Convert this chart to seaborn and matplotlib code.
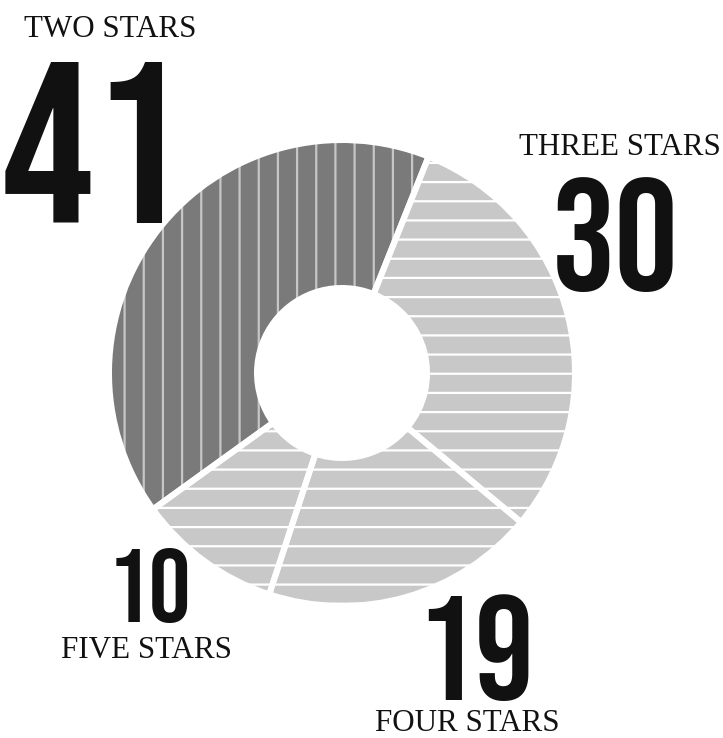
import matplotlib
matplotlib.use("Agg")
import matplotlib.pyplot as plt
import seaborn as sns

# Star-rating shares (percent of reviews)
categories = ["TWO STARS", "THREE STARS", "FOUR STARS", "FIVE STARS"]
values = [41, 30, 19, 10]

sns.set_theme(style="white")
plt.rcParams["hatch.linewidth"] = 1.4

W, H, DPI = 723, 738, 115
fig = plt.figure(figsize=(W / DPI, H / DPI), dpi=DPI)
ax = fig.add_axes([0, 0, 1, 1])

face_colors = ["#7a7a7a", "#c8c8c8", "#c8c8c8", "#c8c8c8"]
hatch_colors = ["#c6c6c6", "#ffffff", "#ffffff", "#ffffff"]
hatches = ["|", "-", "-", "-"]

# ring geometry (in units of the visible outer radius)
gap_px = 6
outer = 1 + (gap_px / 2) / 230
inner = (88 - gap_px / 2) / 230
ring_w = outer - inner

# filled, hatched wedges
wedges, _ = ax.pie(values, startangle=215.8, counterclock=False, radius=outer,
                   colors=face_colors, wedgeprops=dict(width=ring_w, linewidth=0))
for w, hc, ht in zip(wedges, hatch_colors, hatches):
    w.set_edgecolor(hc)
    if hasattr(w, "set_hatchcolor"):
        w.set_hatchcolor(hc)
    w.set_hatch(ht)
    w.set_linewidth(0)

# white separators between the wedges
ax.pie(values, startangle=215.8, counterclock=False, radius=outer,
       colors=["none"] * len(values),
       wedgeprops=dict(width=ring_w, linewidth=gap_px * 72 / DPI,
                       edgecolor="white", facecolor="none"))

# place the ring: centre at (342, 373) px, radius 230 px
cx, cy, R = 342, 373, 230
ax.set_xlim(-cx / R, (W - cx) / R)
ax.set_ylim(-(H - cy) / R, cy / R)
ax.set_aspect("auto")
ax.axis("off")

num_family = ["Bebas Neue", "Liberation Sans Narrow", "DejaVu Sans"]
lab_family = ["Liberation Serif", "DejaVu Serif"]


def px2pt(px):
    return px * 72 / DPI


# (number centre x, number baseline y, digit height) and (label centre x, label baseline y)
num_pos = [(93, 223, 160), (615, 290, 111), (475, 700, 103), (149.5, 622, 73)]
lab_pos = [(110.5, 37), (619.5, 155), (467.5, 731), (146.5, 658)]

for cat, val, (nx, ny, nh), (lx, ly) in zip(categories, values, num_pos, lab_pos):
    fig.text(nx / W, 1 - ny / H, str(val), ha="center", va="baseline",
             fontsize=px2pt(nh / 0.7), family=num_family, color="#111111")
    fig.text(lx / W, 1 - ly / H, cat, ha="center", va="baseline",
             fontsize=px2pt(31), family=lab_family, color="#111111")

fig.savefig("out.png", dpi=DPI, facecolor="white")
